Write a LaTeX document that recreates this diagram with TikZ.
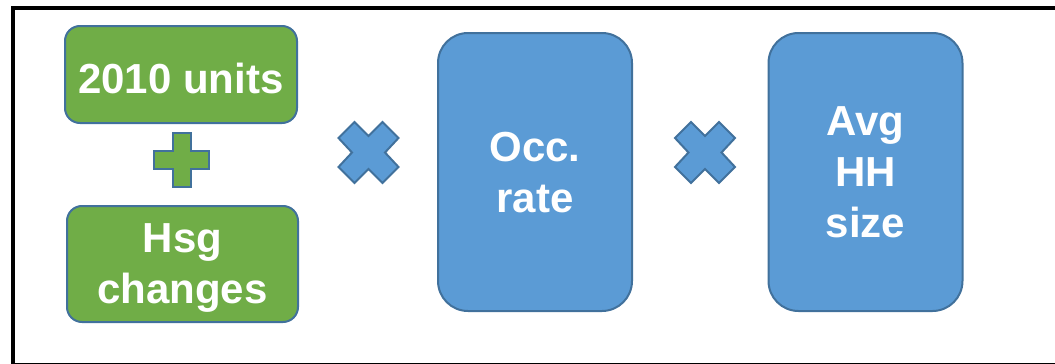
\documentclass[tikz,border=0pt]{standalone}
\usepackage{fontspec}
\setmainfont{Liberation Sans}
\definecolor{boxgreen}{HTML}{70AD47}
\definecolor{boxblue}{HTML}{5B9BD5}
\definecolor{edgeblue}{HTML}{41719C}
\begin{document}
\begin{tikzpicture}[x=1pt,y=-1pt,
  termbox/.style={draw=edgeblue, line width=2pt, text=white, align=center,
    font=\fontsize{42}{51}\selectfont\bfseries, inner sep=0pt,
    text depth=0pt},
  greenbox/.style={termbox, fill=boxgreen, rounded corners=15pt},
  bluebox/.style={termbox, fill=boxblue, rounded corners=30pt,
    minimum width=194pt, minimum height=278pt},
  opsign/.style={draw=edgeblue, line width=2pt, line join=miter},
  pics/mulsign/.style={code={
    \draw[opsign, fill=boxblue] (0,-16.5) -- (14,-30.5) -- (30,-14.5) -- (16.5,0)
      -- (30,14.5) -- (14,30.5) -- (0,16.5) -- (-14,30.5) -- (-30,14.5)
      -- (-16.5,0) -- (-30,-14.5) -- (-14,-30.5) -- cycle;}},
  pics/addsign/.style={code={
    \draw[opsign, fill=boxgreen] (-9,-27) -- (9,-27) -- (9,-9) -- (27.5,-9)
      -- (27.5,9) -- (9,9) -- (9,27) -- (-9,27) -- (-9,9) -- (-27.5,9)
      -- (-27.5,-9) -- (-9,-9) -- cycle;}}]
\useasboundingbox (0,0) rectangle (1055,364);

% outer frame (open on the right)
\draw[line width=4pt] (1060,365) -- (13,365) -- (13,8) -- (1060,8);

% terms
\node[greenbox, minimum width=232pt, minimum height=97pt, text height=37pt]
  (units) at (181,74.5) {2010 units};
\node[greenbox, minimum width=231pt, minimum height=116pt]
  (changes) at (182.5,264) {Hsg\\changes};
\node[bluebox] (occ) at (535,172) {Occ.\\rate};
\node[bluebox] (hh) at (865.5,172) {Avg\\HH\\size};

% operators
\pic at (181.5,160) {addsign};
\pic at (368.5,152.5) {mulsign};
\pic at (705,152.5) {mulsign};
\end{tikzpicture}
\end{document}
